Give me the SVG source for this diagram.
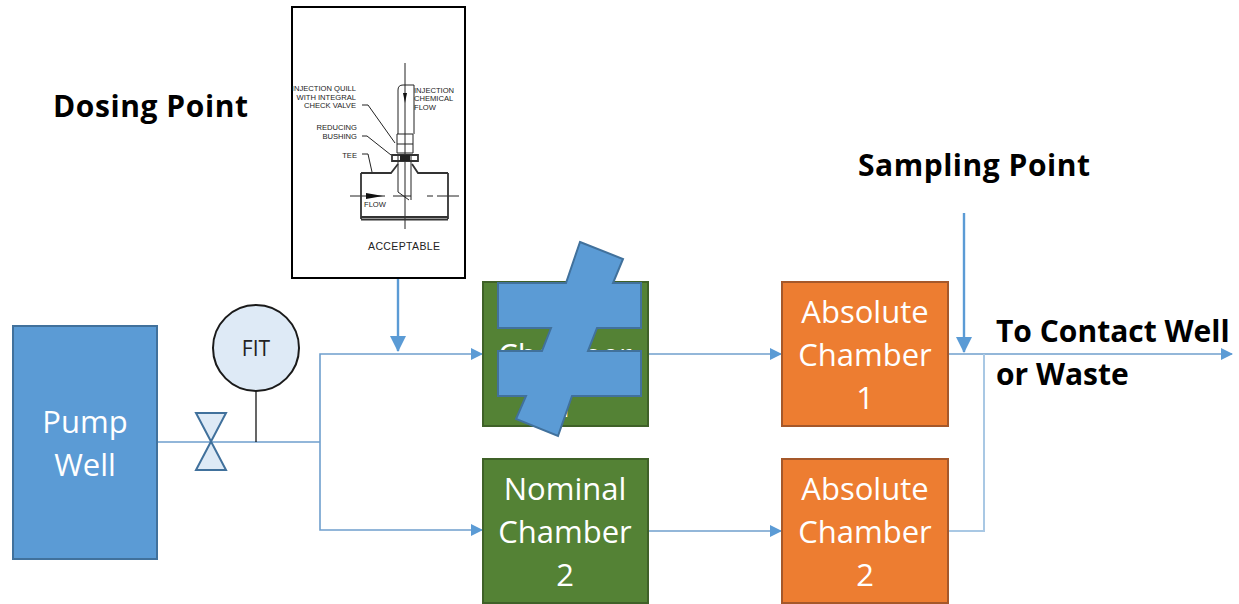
<svg xmlns="http://www.w3.org/2000/svg" width="1239" height="604" viewBox="0 0 1239 604">
<style>
text{font-family:"Open Sans","Noto Sans","Liberation Sans",sans-serif}
.lbl{font-size:31px;fill:#fff;text-anchor:middle}
.hd{font-size:30px;font-weight:700;fill:#000}
.blue{fill:#5b9bd5;stroke:#41719c;stroke-width:2}
.green{fill:#548235;stroke:#3f6128;stroke-width:2}
.orange{fill:#ed7d31;stroke:#a5582a;stroke-width:2}
.conn{fill:none;stroke:#6f9fcd;stroke-width:1.6}
.pale{fill:none;stroke:#a9c8e4;stroke-width:2}
.dose{fill:none;stroke:#5b9bd5;stroke-width:2.4}
.dw{fill:none;stroke:#222;stroke-width:1}
.dth{fill:none;stroke:#333;stroke-width:1.8}
.dt{font-family:"Liberation Sans",sans-serif;font-size:7.6px;fill:#222}
.dr{text-anchor:end}
</style>
<defs>
<marker id="ah" markerWidth="12" markerHeight="12" refX="11" refY="6" orient="auto" markerUnits="userSpaceOnUse"><path d="M0,0L12,6L0,12Z" fill="#5b9bd5"/></marker>
<marker id="ahb" markerWidth="16" markerHeight="16" refX="15" refY="8" orient="auto" markerUnits="userSpaceOnUse"><path d="M0,0L16,8L0,16Z" fill="#5b9bd5"/></marker>
</defs>
<g id="connectors">
<path class="conn" d="M157,442H320M320,442V354H482" marker-end="url(#ah)"/>
<path class="conn" d="M320,442V530H482" marker-end="url(#ah)"/>
<path class="conn" d="M648,354H781" marker-end="url(#ah)"/>
<path class="conn" d="M648,531H781" marker-end="url(#ah)"/>
<path class="conn" d="M948,354H1232" marker-end="url(#ah)"/>
<path class="pale" d="M948,531H984V354"/>
<path d="M256,391V442" fill="none" stroke="#000" stroke-width="1.2"/>
<path class="dose" d="M398,278V351" marker-end="url(#ahb)"/>
<path class="dose" d="M964,213V352" marker-end="url(#ahb)"/>
</g>
<g id="pump-well">
<rect class="blue" x="13" y="326" width="144" height="233"/>
<text class="lbl" x="85" y="433">Pump</text>
<text class="lbl" x="85" y="476">Well</text>
</g>
<g id="valve">
<path d="M196,413H226L196,470H226Z" fill="#deeaf6" stroke="#41719c" stroke-width="2"/>
</g>
<g id="fit">
<circle cx="256" cy="348" r="43" fill="#deeaf6" stroke="#1a1a1a" stroke-width="2"/>
<text x="256" y="356" font-size="21" fill="#222" text-anchor="middle">FIT</text>
</g>
<g id="dosing-detail">
<rect x="292" y="7" width="173" height="271" fill="#fff" stroke="#000" stroke-width="2"/>
<path class="dw" d="M405,63V229M398,134V90Q398,85 403,85H414V134M350,196H385M393,196H411M427,196H433M437,196H459M397,134H413V153H397ZM397,144H413M398,154V192L409,200M411,154V200"/>
<path class="dth" d="M392,155H418V161H392ZM361,173H391L398,164M412,164L418,173H448M361,173V219M448,173V219M361,217H448M361,219.500H448"/>
<path d="M366,193L383,196L366,199Z" fill="#111"/>
<path d="M403,93L405,103L407,93Z" fill="#111"/>
<path class="dw" d="M362,105H368L395,143M362,136H367L391,155M362,154H368L372,172"/>
<rect x="400" y="155" width="10" height="6" fill="#222"/>
<text class="dt dr" x="356" y="91">INJECTION QUILL</text>
<text class="dt dr" x="356" y="99.500">WITH INTEGRAL</text>
<text class="dt dr" x="356" y="108">CHECK VALVE</text>
<text class="dt dr" x="357" y="130">REDUCING</text>
<text class="dt dr" x="357" y="139">BUSHING</text>
<text class="dt dr" x="357" y="158">TEE</text>
<text class="dt" x="414" y="93">INJECTION</text>
<text class="dt" x="414" y="101">CHEMICAL</text>
<text class="dt" x="414" y="110">FLOW</text>
<text class="dt" x="364" y="207">FLOW</text>
<text class="dt" x="368" y="250" style="font-size:10.500px" textLength="72" lengthAdjust="spacing">ACCEPTABLE</text>
</g>
<g id="chamber-1">
<rect class="green" x="483" y="282" width="165" height="144"/>
<text class="lbl" x="565" y="366">Chamber</text>
<text class="lbl" x="565" y="417">1</text>
</g>
<g id="not-equal">
<path class="blue" stroke-width="2.500" d="M580,242L623,259L613,283H641V328H597L588,351H641V396H572L558,436L516,419L526,396H498V351H542L551,328H498V283H566Z"/>
</g>
<g id="chamber-2">
<rect class="green" x="483" y="459" width="165" height="144"/>
<text class="lbl" x="565" y="500">Nominal</text>
<text class="lbl" x="565" y="543">Chamber</text>
<text class="lbl" x="565" y="586">2</text>
</g>
<g id="absolute-1">
<rect class="orange" x="782" y="282" width="166" height="144"/>
<text class="lbl" x="865" y="323">Absolute</text>
<text class="lbl" x="865" y="366">Chamber</text>
<text class="lbl" x="865" y="409">1</text>
</g>
<g id="absolute-2">
<rect class="orange" x="782" y="459" width="166" height="144"/>
<text class="lbl" x="865" y="500">Absolute</text>
<text class="lbl" x="865" y="543">Chamber</text>
<text class="lbl" x="865" y="586">2</text>
</g>
<g id="labels">
<text class="hd" x="53" y="117" textLength="195" lengthAdjust="spacing">Dosing Point</text>
<text class="hd" x="858" y="176" textLength="232" lengthAdjust="spacing">Sampling Point</text>
<text class="hd" x="996" y="342">To Contact Well</text>
<text class="hd" x="996" y="385">or Waste</text>
</g>
</svg>
